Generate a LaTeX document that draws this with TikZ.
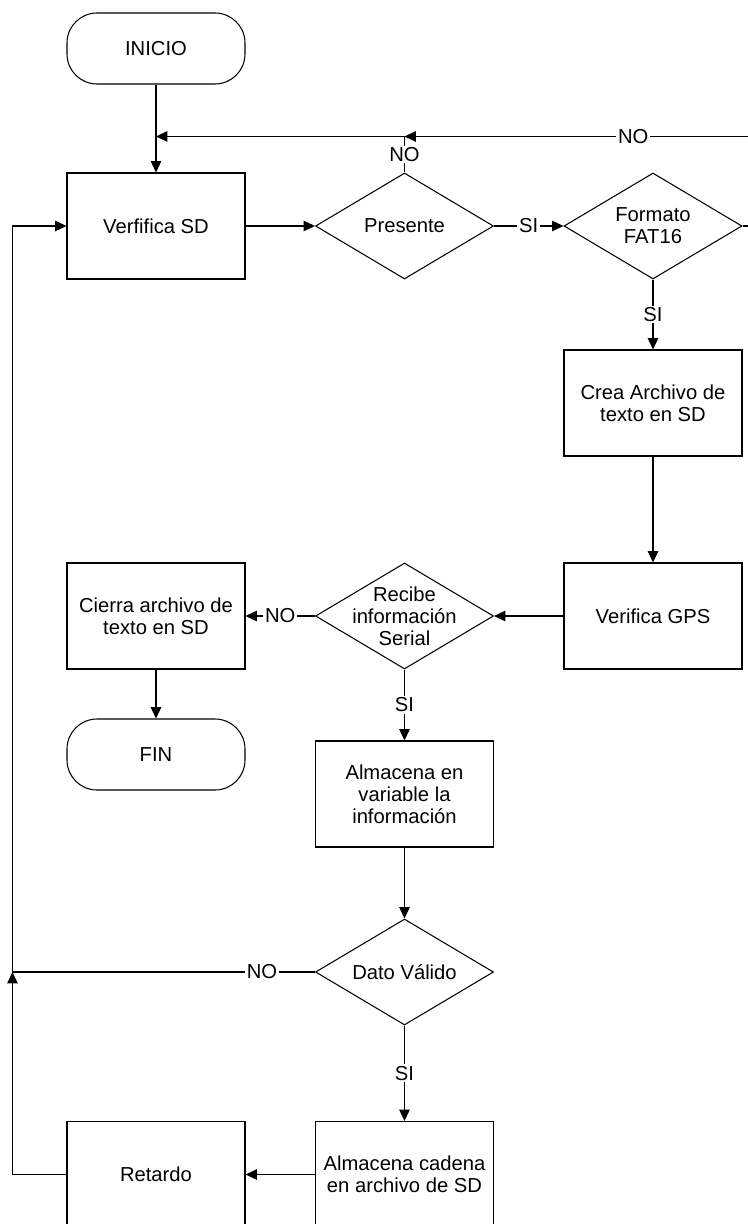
\documentclass[tikz,border=0pt]{standalone}
\usepackage{fontspec}
\setmainfont{Liberation Sans}
\usetikzlibrary{shapes.geometric,arrows.meta,calc}

\begin{document}
\begin{tikzpicture}[line width=0.6pt, font=\fontsize{11.5}{12.6}\selectfont,
  process/.style={rectangle, draw, align=center, minimum width=3.56cm, minimum height=2.12cm},
  terminal/.style={rectangle, draw, rounded corners=0.6cm, minimum width=3.56cm, minimum height=1.42cm},
  decision/.style={diamond, draw, minimum width=3.56cm, minimum height=2.12cm, inner sep=0pt},
  answer/.style={fill=white, inner sep=1pt},
  flow/.style={-{Triangle[length=6.5pt,width=6pt]}}]
  \node[terminal] (inicio) {INICIO};
  \useasboundingbox ($(inicio.center)+(-3.12,0.97)$) rectangle ($(inicio.center)+(11.82,-23.51)$);
%
  \node[process, below of=inicio, node distance=3.55cm] (verifsd) {Verfifica SD};
  \node[decision, right of=verifsd, node distance=4.97cm, %
        label=center:Presente] (presente) {};
  \node[decision, right of=presente, node distance=4.97cm, %
        label={[align=center]center:{Formato\\FAT16}}] (formato) {};
  \node[process, below of=formato, node distance=3.54cm] (crea) {Crea Archivo de\\texto en SD};
  \node[process, below of=crea, node distance=4.26cm] (gps) {Verifica GPS};
  \node[decision, left of=gps, node distance=4.97cm, %
        label={[align=center]center:{Recibe\\información\\Serial}}] (recibe) {};
  \node[process, left of=recibe, node distance=4.97cm] (cierra) {Cierra archivo de\\texto en SD};
  \node[terminal, below of=cierra, node distance=2.77cm] (fin) {FIN};
  \node[process, below of=recibe, node distance=3.56cm] (almvar) {Almacena en\\variable la\\información};
  \node[decision, below of=almvar, node distance=3.56cm, %
        label=center:Dato Válido] (dato) {};
  \node[process, below of=dato, node distance=4.05cm] (almcad) {Almacena cadena\\en archivo de SD};
  \node[process, left of=almcad, node distance=4.97cm] (retardo) {Retardo};
%
  \coordinate (nojoin) at ($(presente.north)+(0,0.72)$);
  \coordinate (rrail) at ($(formato.east)+(0.3,0)$);
  \coordinate (lrail) at ($(verifsd.west)+(-1.08,0)$);
%
  \draw[flow] (inicio) -- (verifsd);
  \draw[flow] (verifsd) -- (presente);
  \draw[flow] (presente) -- node[answer] {SI} (formato);
  \draw[flow] (formato.east) -- (rrail) |- node[answer, pos=0.676] {NO} (nojoin);
  \draw[flow] (presente.north) -- node[answer] {NO} (nojoin) -- (nojoin -| verifsd.north);
  \draw[flow] (formato) -- node[answer] {SI} (crea);
  \draw[flow] (crea) -- (gps);
  \draw[flow] (gps) -- (recibe);
  \draw[flow] (recibe) -- node[answer] {NO} (cierra);
  \draw[flow] (cierra) -- (fin);
  \draw[flow] (recibe) -- node[answer] {SI} (almvar);
  \draw[flow] (almvar) -- (dato);
  \draw[flow] (dato.west) -- node[answer, pos=0.175] {NO} (dato.west -| lrail) |- (verifsd.west);
  \draw[flow] (dato) -- node[answer] {SI} (almcad);
  \draw[flow] (almcad) -- (retardo);
  \draw[flow] (retardo.west) -| (dato.west -| lrail);
\end{tikzpicture}
\end{document}
